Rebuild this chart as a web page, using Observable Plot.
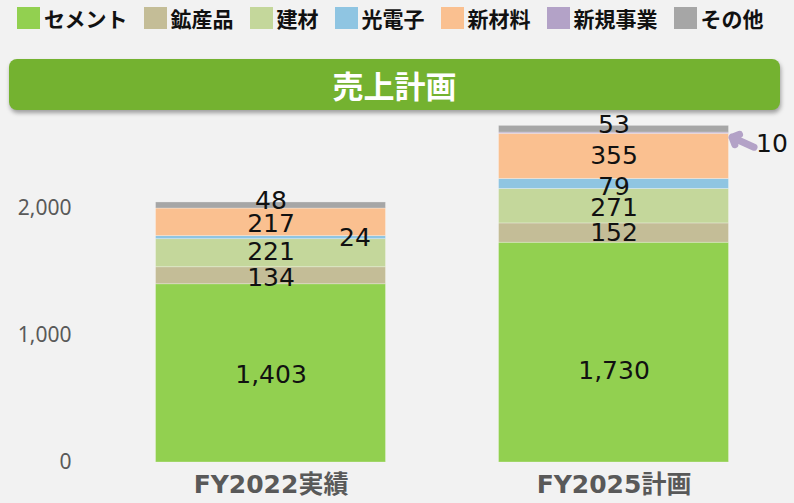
<!DOCTYPE html>
<html><head><meta charset="utf-8">
<script src="https://cdn.jsdelivr.net/npm/d3@7"></script>
<script src="https://cdn.jsdelivr.net/npm/@observablehq/plot@0.6"></script>
<style>
body{margin:0;background:#f2f2f2;width:794px;height:503px;overflow:hidden;position:relative;font-family:"Noto Sans CJK JP",sans-serif;}
#legend{position:absolute;left:17px;top:7px;display:flex;align-items:center;gap:16px;height:22px;}
.item{display:flex;align-items:center;font-weight:700;font-size:21px;color:#111;line-height:22px;white-space:nowrap;}
.sw{width:23px;height:22px;margin-right:4px;flex:none;}
#banner{position:absolute;left:9px;top:59px;width:771px;height:51px;background:#74b230;border-radius:8px;box-shadow:1px 3px 4px rgba(0,0,0,0.35);color:#fff;font-weight:700;font-size:31px;display:flex;align-items:center;justify-content:center;}
#chart{position:absolute;left:0;top:110px;}
</style></head><body>
<div id="legend"></div>
<div id="banner"></div>
<div id="chart"></div>
<script>
const title = "売上計画";
const categories = ["FY2022実績", "FY2025計画"];
const series = ["セメント", "鉱産品", "建材", "光電子", "新材料", "新規事業", "その他"];
const colors = ["#92d050", "#c4bd97", "#c4d79b", "#8fc5e2", "#fac090", "#b3a2c7", "#a6a6a6"];
const fy2022 = [1403, 134, 221, 24, 217, 0, 48];
const fy2025 = [1730, 152, 271, 79, 355, 10, 53];
const yTicks = [0, 1000, 2000];

// legend + banner
const legend = document.getElementById("legend");
series.forEach((s, i) => {
  const it = document.createElement("div"); it.className = "item";
  const sw = document.createElement("div"); sw.className = "sw"; sw.style.background = colors[i];
  const tx = document.createElement("span"); tx.textContent = s;
  it.appendChild(sw); it.appendChild(tx); legend.appendChild(it);
});
document.getElementById("banner").textContent = title;

// layout
const W = 794, H = 393, mL = 80, mR = 0, mT = 9, mB = 41, yMax = 2700;
const xDom = [-0.5554, 1.5262];
const hw = 0.3353;
const pxX = (W - mL - mR) / (xDom[1] - xDom[0]);
const pxY = (H - mT - mB) / yMax;

const rows = [];
[fy2022, fy2025].forEach((vals, ci) => {
  let acc = 0;
  vals.forEach((v, si) => {
    if (!v) return;
    rows.push({cat: categories[ci], ci, series: series[si], value: v, y1: acc, y2: acc + v, mid: acc + v / 2});
    acc += v;
  });
});

// label nudges in px [dx, dy]
const nudges = {
  "0|セメント": [0, 2], "0|鉱産品": [0, 2], "0|建材": [0, -1.5], "0|光電子": [84, 0], "0|新材料": [0, 1.5], "0|その他": [0, -4.5],
  "1|セメント": [0, 18], "1|鉱産品": [0, 0], "1|建材": [0, 1.7], "1|光電子": [0, 3.5], "1|新材料": [0, 0], "1|その他": [0, -4.7]
};
const fmt = d3.format(",");
const labelFont = "DejaVu Sans, Verdana, sans-serif";

const labelMarks = rows.filter(r => nudges[r.ci + "|" + r.series]).map(r => {
  const [dx, dy] = nudges[r.ci + "|" + r.series];
  return Plot.text([r], {x: "ci", y: "mid", text: d => fmt(d.value), dx, dy, fontSize: 25, fill: "#111", fontFamily: labelFont});
});

const callout = rows.filter(r => r.ci === 1 && r.series === "新規事業");

const chart = Plot.plot({
  width: W, height: H, marginLeft: mL, marginRight: mR, marginTop: mT, marginBottom: mB,
  style: {background: "transparent", overflow: "visible"},
  x: {domain: xDom, axis: null},
  y: {domain: [0, yMax], axis: null},
  color: {domain: series, range: colors},
  marks: [
    Plot.rect(rows, {x1: d => d.ci - hw, x2: d => d.ci + hw, y1: "y1", y2: "y2", fill: "series", stroke: "white", strokeOpacity: 0.35, strokeWidth: 0.8}),
    ...labelMarks,
    Plot.arrow(callout, {
      x1: d => d.ci + hw + 25 / pxX, y1: d => d.mid - 14 / pxY,
      x2: d => d.ci + hw + 3 / pxX, y2: d => d.mid - 4 / pxY,
      stroke: "#b3a2c7", strokeWidth: 7, headLength: 8, headAngle: 90
    }),
    Plot.text(callout, {x: d => d.ci + hw, y: "mid", dx: 43, dy: 11, text: d => fmt(d.value), fontSize: 25, fill: "#111", fontFamily: labelFont}),
    Plot.axisY(yTicks, {tickSize: 0, tickPadding: 9, tickFormat: d3.format(","), fontSize: 21, fill: "#595959", fontFamily: "Noto Sans, Open Sans, sans-serif", label: null}),
    Plot.axisX([0, 1], {tickSize: 0, tickPadding: 13, tickFormat: i => categories[i], fontSize: 25, fontWeight: "bold", fill: "#595959", fontFamily: "DejaVu Sans, Noto Sans CJK JP, sans-serif", label: null})
  ]
});
document.getElementById("chart").appendChild(chart);
</script>
</body></html>
